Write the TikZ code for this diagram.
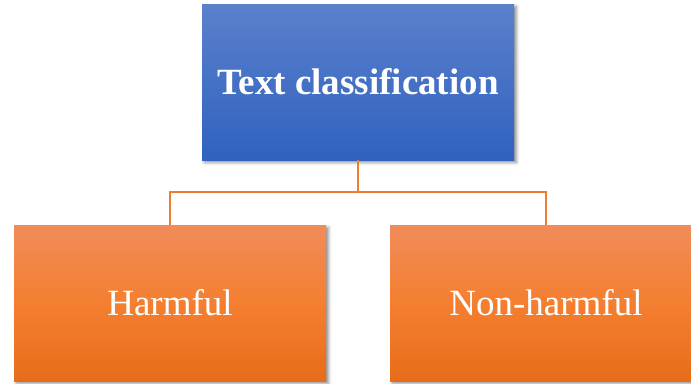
\documentclass[tikz,border=0pt]{standalone}
\usepackage{fontspec}
\setmainfont{Liberation Serif}
\usetikzlibrary{shadows.blur}
\definecolor{bluetop}{HTML}{5B80CC}
\definecolor{bluebot}{HTML}{3062BE}
\definecolor{ortop}{HTML}{F08C5A}
\definecolor{ormid}{HTML}{F47F30}
\definecolor{orbot}{HTML}{E86C1A}
\definecolor{conncol}{HTML}{ED7D31}
\tikzset{
  box/.style={rectangle, minimum width=312pt, minimum height=156pt, inner sep=0pt,
    text=white, font=\fontsize{37}{44}\selectfont,
    blur shadow={shadow xshift=2.5pt, shadow yshift=-2.5pt, shadow blur radius=3pt, shadow opacity=45}},
  topbox/.style={box, top color=bluetop, bottom color=bluebot, font=\fontsize{37}{44}\selectfont\bfseries},
  orbox/.style={box, top color=ortop, bottom color=orbot, middle color=ormid},
  conn/.style={draw=conncol, line width=2pt}
}
\begin{document}
\begin{tikzpicture}[x=1pt,y=-1pt]
\clip (0,0) rectangle (691,383);
\node[topbox] (top) at (358,82) {Text classification};
\node[orbox] (harm) at (170,303) {Harmful};
\node[orbox] (nonharm) at (546,303) {Non-harmful};
\coordinate (mid) at (358,192);
\draw[conn] (top.south) -- (mid) -| (harm.north);
\draw[conn] (mid) -| (nonharm.north);
\end{tikzpicture}
\end{document}
